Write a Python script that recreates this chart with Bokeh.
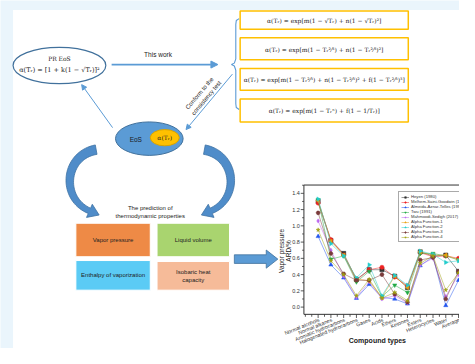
import numpy as np
from bokeh.plotting import figure
from bokeh.models import Range1d, Arrow, NormalHead, Legend, LegendItem
from bokeh.core.properties import value
from bokeh.embed import file_html
from bokeh.resources import INLINE

# ---------------- data of the inset chart ----------------
categories = ["Normal alcohols", "Normal alkanes", "Aromatic hydrocarbons",
              "Halogenated hydrocarbons", "Gases", "Acids", "Ethers", "Ketones",
              "Esters", "Heterocycles", "Water", "Average"]
heyen    = [1.30, 0.82, 0.66, 0.34, 0.46, 0.46, 0.38, 0.24, 0.68, 0.63, 0.64, 0.44]
melhem   = [1.28, 0.83, 0.64, 0.33, 0.46, 0.49, 0.37, 0.26, 0.67, 0.62, 0.63, 0.60]
almeida  = [0.87, 0.52, 0.36, 0.11, 0.28, 0.12, 0.10, 0.04, 0.51, 0.62, 0.02, 0.33]
twu      = [1.32, 0.59, 0.63, 0.31, 0.44, 0.13, 0.27, 0.18, 0.66, 0.66, 0.63, 0.58]
mahmoodi = [1.06, 0.70, 0.38, 0.12, 0.31, 0.10, 0.14, 0.05, 0.52, 0.60, 0.13, 0.40]
af1      = [1.31, 0.81, 0.64, 0.35, 0.32, 0.12, 0.38, 0.24, 0.68, 0.64, 0.64, 0.58]
af2      = [1.33, 0.78, 0.63, 0.36, 0.52, 0.14, 0.39, 0.27, 0.69, 0.65, 0.55, 0.57]
af3      = [1.16, 0.66, 0.41, 0.33, 0.33, 0.40, 0.16, 0.06, 0.58, 0.61, 0.10, 0.44]
af4      = [0.95, 0.57, 0.40, 0.14, 0.34, 0.11, 0.18, 0.08, 0.54, 0.63, 0.21, 0.42]
series_names = ["Heyen (1980)", "Melhem-Saini-Goodwin (1989)", "Almeida-Aznar-Telles (1991)",
                "Twu (1991)", "Mahmoodi-Sedigh (2017)", "Alpha Function-1",
                "Alpha Function-2", "Alpha Function-3", "Alpha Function-4"]
series_values = [heyen, melhem, almeida, twu, mahmoodi, af1, af2, af3, af4]
y_ticks = [0.0, 0.2, 0.4, 0.6, 0.8, 1.0, 1.2, 1.4]

colors = ["#333333", "#ee2222", "#2255ee", "#22aa44", "#bb66ee", "#e8a010",
          "#22cccc", "#7a3b3b", "#a0a010"]
markers = ["square", "circle", "triangle", "inverted_triangle", "diamond",
           "triangle", "triangle", "hex", "star"]
angles = [0, 0, 0, 0, 0, np.pi / 2, -np.pi / 2, 0, 0]

W, H = 475, 364
p = figure(width=459, height=348, x_range=Range1d(0, W), y_range=Range1d(H, 0),
           output_backend="svg", toolbar_location=None, min_border=0)
p.axis.visible = False
p.grid.visible = False
p.outline_line_color = None
p.background_fill_color = "#eaf5fc"
p.border_fill_color = "#eaf5fc"

SANS = "Liberation Sans"
SERIF = "DejaVu Serif"


def txt(x, y, s, size, font=SANS, color="#222222", align="center",
        baseline="middle", angle=0.0, style="normal", **kw):
    p.text(x=[x], y=[y], text=[s], text_font=value(font),
           text_font_size=f"{size}px", text_color=color, text_align=align,
           text_baseline=baseline, angle=angle, text_font_style=style, **kw)


# white panel
p.quad(left=13, right=W, top=10, bottom=H, fill_color="white", line_color=None)

BLUE = "#5b9bd5"
DBLUE = "#41719c"

# PR EoS ellipse
p.ellipse(x=61, y=68, width=96, height=38, fill_color="white", line_color=DBLUE, line_width=1.2)
txt(61, 61, "PR EoS", 6, font=SERIF)
txt(61, 73, "α(Tᵣ) = [1 + k(1 − √Tᵣ)]²", 6.5, font=SERIF)

# "This work" arrow
p.add_layout(Arrow(x_start=115, y_start=67, x_end=225, y_end=67, line_color=BLUE, line_width=1.8,
                   end=NormalHead(size=7, fill_color=BLUE, line_color=BLUE)))
txt(163, 56, "This work", 6.5)

# brace
bx = [247, 244, 243.5, 243.5, 242, 239, 242, 243.5, 243.5, 244, 247]
by = [19, 21, 25, 61, 65.5, 67, 68.5, 73, 108, 112, 114]
p.line(bx, by, line_color=BLUE, line_width=1.1)

# formula boxes
boxes = [(11, 30), (39, 62), (71, 94), (103, 127)]
formulas = ["α(Tᵣ) = exp[m(1 − √Tᵣ) + n(1 − √Tᵣ)²]",
            "α(Tᵣ) = exp[m(1 − Tᵣ²⁄³) + n(1 − Tᵣ²⁄³)²]",
            "α(Tᵣ) = exp[m(1 − Tᵣ²⁄³) + n(1 − Tᵣ²⁄³)² + f(1 − Tᵣ²⁄³)³]",
            "α(Tᵣ) = exp[m(1 − Tᵣⁿ) + f(1 − 1/Tᵣ)]"]
for (t, b), f in zip(boxes, formulas):
    p.quad(left=248, right=422, top=t, bottom=b, fill_color="white", line_color="#ffc000", line_width=1.5)
    txt(335, (t + b) / 2 + 0.5, f, 6, font=SERIF)

# diagonal arrow (consistency test)
p.add_layout(Arrow(x_start=240, y_start=77, x_end=192, y_end=135, line_color=BLUE, line_width=1.0,
                   end=NormalHead(size=5, fill_color=BLUE, line_color=BLUE)))
txt(206, 97, "Conform to the", 6, angle=np.deg2rad(50))
txt(213, 102, "consistency test", 6, angle=np.deg2rad(50))

# arrow EoS -> PR EoS
p.add_layout(Arrow(x_start=116, y_start=133, x_end=84, y_end=88, line_color=BLUE, line_width=1.0,
                   end=NormalHead(size=5, fill_color=BLUE, line_color=BLUE)))

# EoS ellipse
p.ellipse(x=154, y=144.5, width=70, height=35, fill_color=BLUE, line_color=DBLUE, line_width=1)
txt(140, 145, "EoS", 6.5, color="#1a1a1a")
p.ellipse(x=170, y=143.5, width=30, height=17, fill_color="#ffc000", line_color="#d9a300", line_width=1)
txt(170, 143.5, "α(Tᵣ)", 6, font=SERIF)


# curved arrows
def curved_arrow(P0, P1, P2, P3, w0, w1, hw, hl):
    P0, P1, P2, P3 = map(np.array, (P0, P1, P2, P3))
    t = np.linspace(0, 1, 40)[:, None]
    pts = (1 - t) ** 3 * P0 + 3 * (1 - t) ** 2 * t * P1 + 3 * (1 - t) * t ** 2 * P2 + t ** 3 * P3
    d = 3 * (1 - t) ** 2 * (P1 - P0) + 6 * (1 - t) * t * (P2 - P1) + 3 * t ** 2 * (P3 - P2)
    d = d / np.linalg.norm(d, axis=1)[:, None]
    n = np.column_stack([-d[:, 1], d[:, 0]])
    w = (w0 + (w1 - w0) * t) / 2
    a = pts + n * w
    b = pts - n * w
    T = d[-1]
    N = n[-1]
    tip = P3 + T * hl
    xs = list(a[:, 0]) + [P3[0] + N[0] * hw, tip[0], P3[0] - N[0] * hw] + list(b[::-1, 0])
    ys = list(a[:, 1]) + [P3[1] + N[1] * hw, tip[1], P3[1] - N[1] * hw] + list(b[::-1, 1])
    p.patch(xs, ys, fill_color="#4f8cc9", line_color="#3f72a3", line_width=0.8)


curved_arrow((99, 156), (66, 162), (62, 207), (92, 220), 10, 6, 7.5, 11)
curved_arrow((211, 156), (244, 162), (248, 207), (218, 220), 10, 6, 7.5, 11)

txt(155, 217, "The prediction of", 6)
txt(155, 225, "thermodynamic properties", 6)

# property boxes
props = [(78, 155, 233, 268, "#ee8a46", ["Vapor pressure"]),
         (162, 237, 233, 268, "#a9d46f", ["Liquid volume"]),
         (78, 155, 272, 303, "#5bcbf5", ["Enthalpy of vaporization"]),
         (162, 237, 273, 303, "#f6bb99", ["Isobaric heat", "capacity"])]
for l, r, t, b, c, lines in props:
    p.quad(left=l, right=r, top=t, bottom=b, fill_color=c, line_color="white", line_width=1)
    cy = (t + b) / 2
    if len(lines) == 1:
        txt((l + r) / 2, cy, lines[0], 6)
    else:
        txt((l + r) / 2, cy - 4.5, lines[0], 6)
        txt((l + r) / 2, cy + 4.5, lines[1], 6)

# block arrow to the chart
p.patch([242, 275, 275, 287, 275, 275, 242], [266, 266, 261, 270.5, 280, 275, 275],
        fill_color=BLUE, line_color=DBLUE, line_width=0.8)

# ---------------- inset chart through its own ranges ----------------
x0_px, dx_px = 328.7, 13.21
y0_px, dy_px = 320.7, 85.0
p.extra_x_ranges = {"cat": Range1d(start=-x0_px / dx_px, end=(W - x0_px) / dx_px)}
p.extra_y_ranges = {"ard": Range1d(start=(y0_px - H) / dy_px, end=y0_px / dy_px)}
R = dict(x_range_name="cat", y_range_name="ard")

xl, xr = -1.113, 12.5
yb, yt = -0.089, 1.502
idx = list(range(len(categories)))

items = []
for name, vals, c, m, a in zip(series_names, series_values, colors, markers, angles):
    lr = p.line(idx, vals, line_color=c, line_width=0.7, line_alpha=0.7, **R)
    sr = p.scatter(idx, vals, marker=m, angle=a, size=4.2, fill_color=c, line_color=c,
                   line_width=0.5, **R)
    items.append(LegendItem(label=name, renderers=[lr, sr]))

# axes frame
p.segment(x0=[xl, xl, xl], y0=[yb, yb, yt], x1=[xl, xr, xr], y1=[yt, yb, yt],
          line_color="#333333", line_width=1, **R)
# y ticks
yt_major = y_ticks
yt_minor = [v + 0.1 for v in y_ticks]
p.segment(x0=[xl] * len(yt_major), y0=yt_major, x1=[xl - 0.25] * len(yt_major), y1=yt_major,
          line_color="#333333", line_width=0.8, **R)
p.segment(x0=[xl] * len(yt_minor), y0=yt_minor, x1=[xl - 0.14] * len(yt_minor), y1=yt_minor,
          line_color="#333333", line_width=0.8, **R)
p.text(x=[xl] * len(y_ticks), y=y_ticks, text=[f"{v:.1f}" for v in y_ticks], x_offset=-4,
       text_font=value(SANS), text_font_size="5.5px", text_color="#333333",
       text_align="right", text_baseline="middle", **R)
# x ticks
xt_major = idx
xt_minor = [-1.0] + [i - 0.5 for i in idx] + [11.5]
p.segment(x0=xt_major, y0=[yb] * len(xt_major), x1=xt_major, y1=[yb - 0.045] * len(xt_major),
          line_color="#333333", line_width=0.8, **R)
p.segment(x0=xt_minor, y0=[yb] * len(xt_minor), x1=xt_minor, y1=[yb - 0.03] * len(xt_minor),
          line_color="#333333", line_width=0.8, **R)
p.text(x=idx, y=[yb] * len(idx), text=categories, x_offset=1, y_offset=5,
       text_font=value(SANS), text_font_size="5.2px", text_color="#333333",
       text_align="right", text_baseline="middle", angle=np.deg2rad(22), **R)

txt(390, 356, "Compound types", 7, color="#222222", style="bold")
txt(291, 262, "Vapor pressure", 6.5, angle=np.pi / 2)
txt(298, 262, "ARD/%", 6.5, angle=np.pi / 2)

legend = Legend(items=items, location=(398, 106), label_text_font=SANS,
                label_text_font_size="4.2px", label_text_color="#333333",
                label_height=4, glyph_height=4, glyph_width=8, label_standoff=2,
                spacing=0, padding=2, margin=0, border_line_color="#555555",
                border_line_width=0.8, background_fill_color="white", background_fill_alpha=1)
p.add_layout(legend)

open("out.html", "w").write(file_html(p, INLINE))
